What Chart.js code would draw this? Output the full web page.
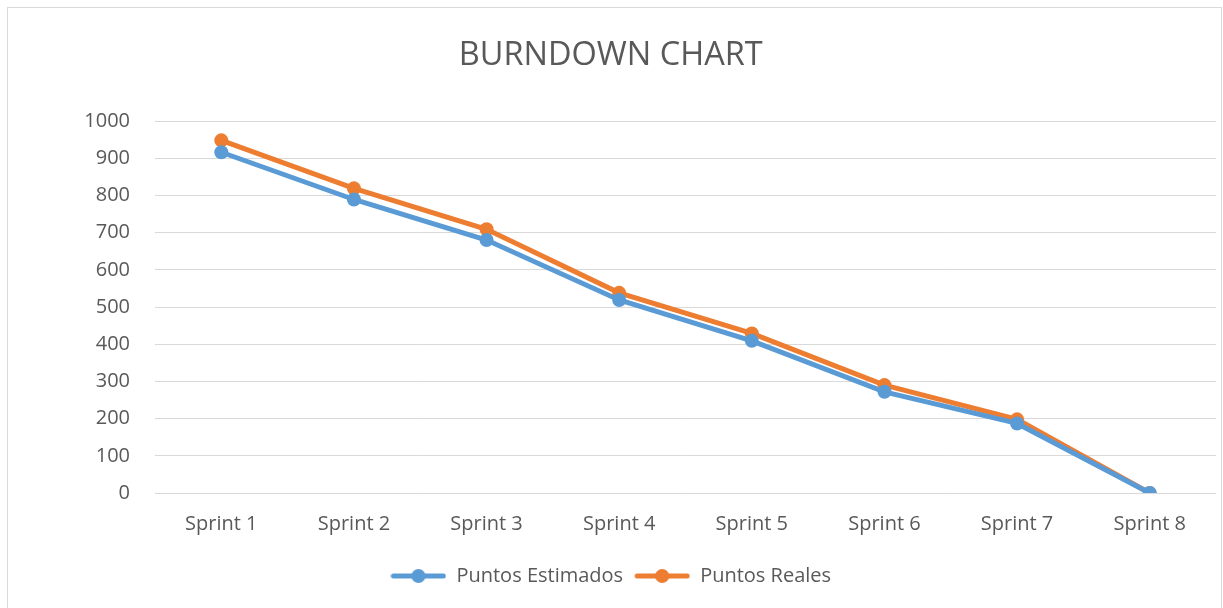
<!DOCTYPE html>
<html>
<head>
<meta charset="utf-8">
<script src="https://cdn.jsdelivr.net/npm/chart.js@4"></script>
<style>
  html, body { margin: 0; padding: 0; background: #fff; overflow: hidden; }
  #wrap { width: 1223px; height: 608px; }
</style>
</head>
<body>
<div id="wrap"><canvas id="chartBurndown"></canvas></div>
<script>
// datos
var sprints = ["Sprint 1", "Sprint 2", "Sprint 3", "Sprint 4", "Sprint 5", "Sprint 6", "Sprint 7", "Sprint 8"];
var puntosEstimados = [916, 789, 680, 519, 409, 272, 187, 0];
var puntosReales = [948, 819, 709, 538, 429, 290, 198, 0];

var azul = '#5B9BD5';
var naranja = '#ED7D31';
var gris = '#595959';

// marcador de leyenda: linea con circulo
function marcador(color) {
    var c = document.createElement('canvas');
    c.width = 56; c.height = 16;
    var ctx = c.getContext('2d');
    ctx.strokeStyle = color;
    ctx.lineWidth = 5;
    ctx.lineCap = 'round';
    ctx.beginPath(); ctx.moveTo(3, 8); ctx.lineTo(53, 8); ctx.stroke();
    ctx.fillStyle = color;
    ctx.beginPath(); ctx.arc(28, 8, 7, 0, Math.PI * 2); ctx.fill();
    return c;
}

// marco gris del grafico
var borde = {
    id: 'borde',
    beforeDraw: function (chart) {
        var ctx = chart.ctx;
        ctx.save();
        ctx.strokeStyle = '#d9d9d9';
        ctx.lineWidth = 1;
        ctx.strokeRect(7.5, 7.5, 1214, 620);
        ctx.restore();
    }
};

var burndown = document.getElementById('chartBurndown').getContext('2d');
var chart = new Chart(burndown, {
    type: 'line',
    plugins: [borde],
    data: {
        labels: sprints,
        datasets: [
            {
                label: "Puntos Estimados",
                data: puntosEstimados,
                borderColor: azul,
                backgroundColor: azul,
                borderWidth: 5,
                pointRadius: 7,
                pointHoverRadius: 7,
                pointBorderWidth: 0,
                tension: 0
            },
            {
                label: "Puntos Reales",
                data: puntosReales,
                borderColor: naranja,
                backgroundColor: naranja,
                borderWidth: 5,
                pointRadius: 7,
                pointHoverRadius: 7,
                pointBorderWidth: 0,
                tension: 0
            }
        ]
    },
    options: {
        responsive: true,
        maintainAspectRatio: false,
        animation: false,
        layout: { padding: { left: 0, right: 1.5, top: 20, bottom: 12 } },
        plugins: {
            title: {
                display: true,
                text: "BURNDOWN CHART",
                color: gris,
                font: { family: "'Open Sans'", size: 32.5, weight: 'normal' },
                padding: { top: 16, bottom: 46 }
            },
            legend: {
                position: 'bottom',
                labels: {
                    color: gris,
                    font: { family: "'Open Sans'", size: 20 },
                    usePointStyle: true,
                    pointStyleWidth: 56,
                    padding: 11,
                    generateLabels: function (ch) {
                        return ch.data.datasets.map(function (ds, i) {
                            return {
                                text: ds.label,
                                pointStyle: marcador(ds.borderColor),
                                fontColor: gris,
                                datasetIndex: i,
                                hidden: false,
                                lineWidth: 0
                            };
                        });
                    }
                }
            },
            tooltip: { enabled: false }
        },
        scales: {
            x: {
                offset: true,
                afterFit: function (s) { s.paddingLeft = 0; s.paddingRight = 0; },
                grid: { display: false, drawTicks: false },
                border: { display: false },
                ticks: { color: gris, font: { family: "'Open Sans'", size: 20 }, padding: 19 }
            },
            y: {
                min: 0,
                max: 1000,
                afterFit: function (s) { s.width = 155; },
                grid: { color: '#d9d9d9', lineWidth: 1, drawTicks: false },
                border: { display: false },
                ticks: {
                    stepSize: 100,
                    color: gris,
                    font: { family: "'Open Sans'", size: 20 },
                    padding: 25,
                    callback: function (v) { return String(v); }
                }
            }
        }
    }
});
</script>
</body>
</html>
